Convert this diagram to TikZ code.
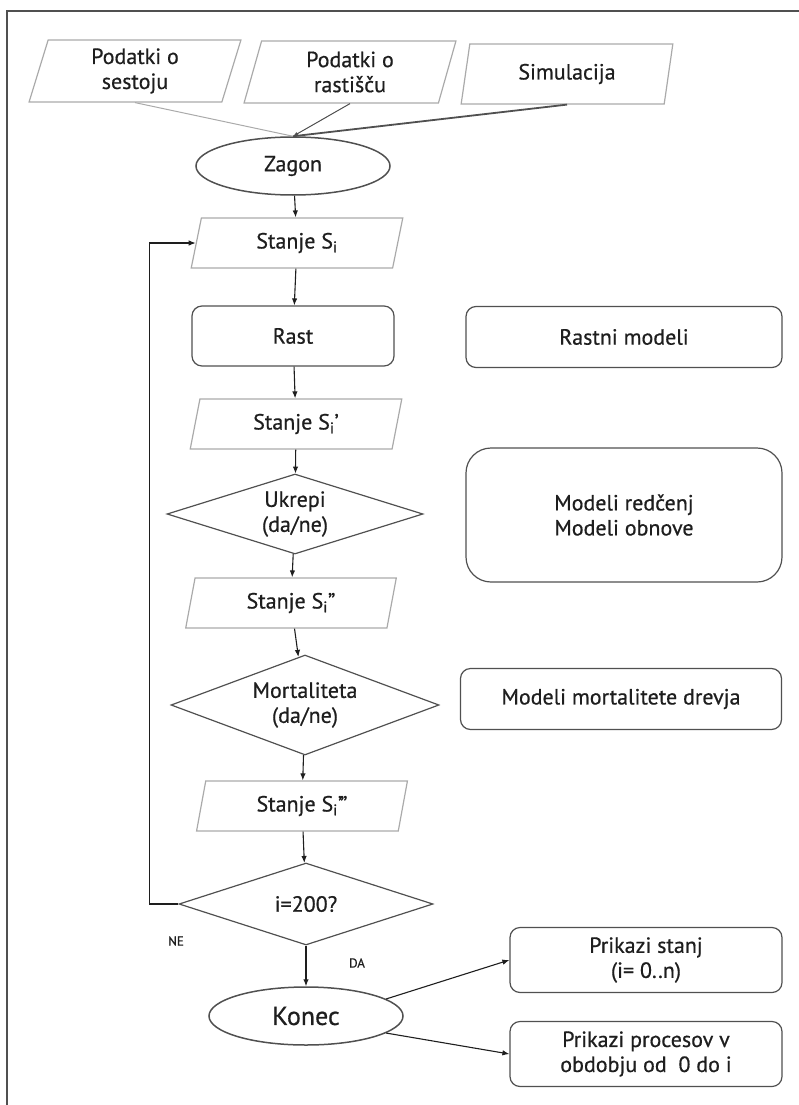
\documentclass[tikz,border=0pt]{standalone}
\usepackage{fontspec}
\setmainfont{PT Sans}[FakeBold=0.6]
\usepackage{tikz}
\usetikzlibrary{arrows.meta, positioning, shapes.geometric}
\definecolor{edgec}{RGB}{80,80,80}
\definecolor{ioc}{RGB}{170,170,170}
\definecolor{txtc}{RGB}{30,30,30}

\begin{document}
\begin{tikzpicture}[x=1pt,y=-1pt,
    txt/.style={font=\fontsize{22}{25}\selectfont, text=txtc, align=center},
    io/.style={trapezium, trapezium left angle=78, trapezium right angle=102,
      trapezium stretches=true, draw=ioc, line width=1.2pt, inner sep=0pt,
      minimum width=212pt, minimum height=#1, txt},
    io/.default=50pt,
    procbox/.style={rectangle, rounded corners=10pt, draw=edgec, line width=1.2pt, inner sep=0pt, txt},
    decide/.style={diamond, draw=edgec, line width=1.2pt, inner sep=0pt, txt},
    termin/.style={ellipse, draw=edgec, line width=1.5pt, inner sep=0pt,
      minimum width=194pt, minimum height=58pt, txt},
    arr/.style={draw=txtc, line width=1.1pt, -{Latex[length=7pt,width=5.5pt]}},
    yn/.style={font=\fontsize{13}{15}\selectfont, text=txtc}]
  \useasboundingbox (0,0) rectangle (799,1105);
  % frame
  \draw[edgec,line width=1.2pt] (7,1105) -- (7,11) -- (799,11);
  % inputs
  \node[io=62pt] (sestoj) at (135,71) {Podatki o\\sestoju};
  \node[io=62pt] (rastisce) at (350,72) {Podatki o\\rastišču};
  \node[io=60pt] (simul) at (567,74) {Simulacija};
  \node[termin] (zagon) at (293,166) {Zagon};
  % main loop
  \node[io] (s0) at (297,243) {Stanje S\textsubscript{i}};
  \node[procbox, minimum width=202pt, minimum height=60pt] (rast) at (293,336) {Rast};
  \node[io] (s1) at (296,424) {Stanje S\textsubscript{i}’};
  \node[decide, aspect=3.2, minimum width=256pt, minimum height=80pt] (ukrepi) at (295,514) {Ukrepi\\(da/ne)};
  \node[io] (s2) at (291,603) {Stanje S\textsubscript{i}”};
  \node[decide, aspect=2.68, minimum width=268pt, minimum height=100pt] (mort) at (305,705) {Mortaliteta\\(da/ne)};
  \node[io] (s3) at (302,806) {Stanje S\textsubscript{i}’\kern-0.1em”};
  \node[decide, aspect=3.1, minimum width=254pt, minimum height=82pt] (konecq) at (306,904) {i=200?};
  \node[termin, font=\fontsize{26}{30}\selectfont] (konec) at (306,1016) {Konec};
  % models
  \node[procbox, minimum width=316pt, minimum height=61pt] (rastmod) at (624,337) {Rastni modeli};
  \node[procbox, rounded corners=25pt, minimum width=316pt, minimum height=134pt] (redmod) at (624,515) {Modeli redčenj\\Modeli obnove};
  \node[procbox, minimum width=321pt, minimum height=61pt] (mortmod) at (621,699) {Modeli mortalitete drevja};
  % outputs
  \node[procbox, minimum width=272pt, minimum height=65pt] (izpis1) at (646,960) {Prikazi stanj\\(i= 0..n)};
  \node[procbox, minimum width=272pt, minimum height=65pt] (izpis2) at (646,1054) {Prikazi procesov v\\obdobju od \ 0 do i};
  % labels
  \node[yn] (ne) at (176,941) {NE};
  \node[yn] (da) at (357,963) {DA};
  % connectors
  \draw[ioc,line width=1pt] (sestoj.south) -- (zagon.north);
  \draw[edgec,line width=1pt,-{Latex[length=5pt,width=4pt]}] (rastisce.south) -- (zagon.north);
  \draw[edgec,line width=1.8pt] (simul.south) -- (zagon.north);
  \draw[arr] (zagon) -- (s0);
  \draw[arr] (s0) -- (rast);
  \draw[arr] (rast) -- (s1);
  \draw[arr] (s1) -- (ukrepi);
  \draw[arr] (ukrepi) -- (s2);
  \draw[arr] (s2) -- (mort);
  \draw[arr] (mort) -- (s3);
  \draw[arr] (s3) -- (konecq);
  \draw[arr] (konecq) -- (konec);
  \draw[arr] (konecq.west) -- ++(-29,0) |- (s0.west);
  \draw[arr] (konec.12) -- (izpis1.west);
  \draw[arr] (konec.-12) -- (izpis2.west);
\end{tikzpicture}
\end{document}
